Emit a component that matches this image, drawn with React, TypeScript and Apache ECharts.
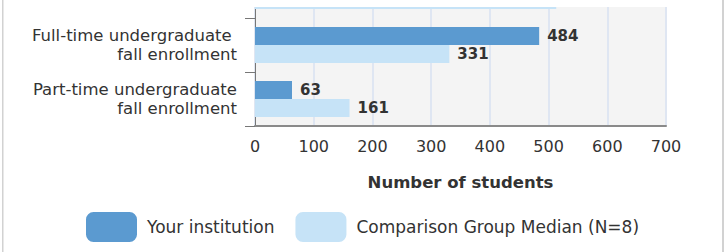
import React, { useEffect, useRef } from "react";
import * as echarts from "echarts";

// Categories, top to bottom (the topmost one is cropped off in the reference)
const categories = [
  "Total undergraduate fall enrollment",
  "Full-time undergraduate \nfall enrollment",
  "Part-time undergraduate\nfall enrollment",
];
const yourInstitution: (number | null)[] = [null, 484, 63];
const comparisonMedian: number[] = [513, 331, 161];
const seriesNames = ["Your institution", "Comparison Group Median (N=8)"];
const xTicks = { min: 0, max: 700, interval: 100 };
const xAxisName = "Number of students";

const FONT = "'DejaVu Sans', sans-serif";
const CROP = 36; // the chart is cropped at its top in the reference

export default function App() {
  const ref = useRef<HTMLDivElement>(null);
  useEffect(() => {
    if (!ref.current) return;
    const chart = echarts.init(ref.current, null, { renderer: "svg" });
    const valueLabel = {
      show: true,
      position: "right",
      distance: 8,
      fontFamily: FONT,
      fontSize: 15,
      fontWeight: "bold",
      color: "#333",
    };
    // the topmost (cropped) category's value label lies outside the picture
    const withLabels = (arr: (number | null)[]) =>
      arr.map((v, i) => (i === 0 ? { value: v, label: { show: false } } : v));
    chart.setOption({
      animation: false,
      textStyle: { fontFamily: FONT },
      grid: {
        left: 255,
        right: 59,
        top: 0,
        bottom: 126,
        show: true,
        backgroundColor: "#f4f4f4",
        borderWidth: 0,
      },
      legend: {
        left: 81,
        top: 207 + CROP,
        itemWidth: 51,
        itemHeight: 30,
        itemGap: 21,
        icon: "roundRect",
        textStyle: { fontFamily: FONT, fontSize: 17, color: "#333", padding: [0, 0, 0, 5] },
        data: seriesNames,
      },
      xAxis: {
        type: "value",
        min: xTicks.min,
        max: xTicks.max,
        interval: xTicks.interval,
        name: xAxisName,
        nameLocation: "middle",
        nameGap: 48,
        nameTextStyle: { fontFamily: FONT, fontSize: 16.5, fontWeight: "bold", color: "#333" },
        axisLine: { show: true, lineStyle: { color: "#8a8a8a", width: 2 } },
        axisTick: { show: false },
        axisLabel: { margin: 12, fontFamily: FONT, fontSize: 16, color: "#333" },
        splitLine: { show: true, lineStyle: { color: "#dfe6f2", width: 2 } },
      },
      yAxis: {
        type: "category",
        inverse: true,
        data: categories,
        axisLine: { show: true, lineStyle: { color: "#777", width: 1 } },
        axisTick: { show: true, length: 10, lineStyle: { color: "#777" } },
        axisLabel: {
          margin: 18,
          fontFamily: FONT,
          fontSize: 16.5,
          color: "#333",
          lineHeight: 19.5,
          align: "right",
          padding: [0, 0, 10, 0],
          interval: (i: number) => i !== 0,
        },
        splitLine: { show: false },
      },
      series: [
        {
          name: seriesNames[0],
          type: "bar",
          data: withLabels(yourInstitution),
          barWidth: 18,
          barGap: "0%",
          itemStyle: { color: "#5b9ad0" },
          label: valueLabel,
        },
        {
          name: seriesNames[1],
          type: "bar",
          data: withLabels(comparisonMedian),
          barWidth: 18,
          barGap: "0%",
          itemStyle: { color: "#c6e3f7" },
          label: valueLabel,
        },
      ],
      graphic: [
        {
          type: "rect",
          z: 100,
          shape: { x: 0, y: 0, width: 725, height: CROP + 7 },
          style: { fill: "#ffffff" },
        },
        {
          type: "rect",
          z: 101,
          shape: { x: 2, y: 0, width: 1.5, height: 252 + CROP },
          style: { fill: "#d2d2d2" },
        },
        {
          type: "rect",
          z: 101,
          shape: { x: 722, y: 0, width: 2, height: 252 + CROP },
          style: { fill: "#d2d2d2" },
        },
      ],
    });
    return () => chart.dispose();
  }, []);
  return (
    <div
      style={{
        position: "fixed",
        left: 0,
        top: 0,
        width: 725,
        height: 252,
        overflow: "hidden",
        background: "#fff",
      }}
    >
      <div ref={ref} style={{ position: "absolute", left: 0, top: -CROP, width: 725, height: 252 + CROP }} />
    </div>
  );
}
